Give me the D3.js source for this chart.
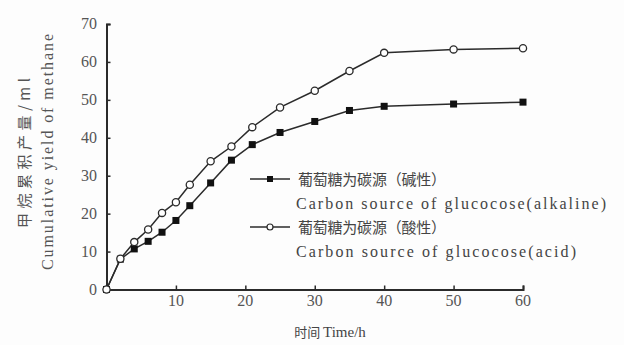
<!DOCTYPE html>
<html>
<head>
<meta charset="utf-8">
<script src="https://cdn.jsdelivr.net/npm/d3@7"></script>
<style>
  body { margin: 0; background: #fdfdfd; }
  svg { display: block; }
</style>
</head>
<body>
<div id="chart"></div>
<script>
// chart data
var times = [0, 2, 4, 6, 8, 10, 12, 15, 18, 21, 25, 30, 35, 40, 50, 60];
var alkaline = [0, 8, 10.7, 12.7, 15.1, 18.2, 22.1, 28.1, 34.1, 38.2, 41.4, 44.3, 47.2, 48.3, 48.9, 49.4];
var acid = [0, 8.1, 12.5, 15.8, 20.2, 23, 27.6, 33.8, 37.7, 42.8, 48, 52.4, 57.6, 62.4, 63.3, 63.6];
var xTicks = [10, 20, 30, 40, 50, 60];
var yTicks = [0, 10, 20, 30, 40, 50, 60, 70];
var legendNames = [
    ["葡萄糖为碳源（碱性）", "Carbon source of glucocose(alkaline)"],
    ["葡萄糖为碳源（酸性）", "Carbon source of glucocose(acid)"]
];

var width = 624;
var height = 345;
var ink = "#2b2b2b";
var serif = "Liberation Serif, DejaVu Serif, serif";
var cjk = "Noto Sans CJK SC, sans-serif";

var svg = d3.select("#chart")
    .append("svg")
    .attr("width", width)
    .attr("height", height);

// scales
var x = d3.scaleLinear().domain([0, 60]).range([106.5, 523]);
var y = d3.scaleLinear().domain([0, 70]).range([289.5, 24]);

// y axis, ticks pointing inward
var yAxis = svg.append("g")
    .attr("transform", "translate(" + x(0) + ",0)")
    .call(d3.axisRight(y).tickValues(yTicks).tickSize(4).tickFormat(""));
yAxis.select(".domain").attr("stroke", ink).attr("stroke-width", 2);
yAxis.selectAll(".tick line").attr("stroke", ink).attr("stroke-width", 1.5);

svg.selectAll(".ylab")
    .data(yTicks)
    .enter()
    .append("text")
    .style("font-family", serif)
    .attr("x", 97)
    .attr("y", function(d) { return y(d) + 5; })
    .attr("text-anchor", "end")
    .attr("font-size", 16)
    .attr("fill", "#555")
    .text(function(d) { return d; });

// x axis, ticks pointing up
var xAxis = svg.append("g")
    .attr("transform", "translate(0," + y(0) + ")")
    .call(d3.axisTop(x).tickValues(xTicks).tickSize(4).tickFormat(""));
xAxis.select(".domain").attr("stroke", ink).attr("stroke-width", 2);
xAxis.selectAll(".tick line").attr("stroke", ink).attr("stroke-width", 1.5);

svg.selectAll(".xlab")
    .data(xTicks)
    .enter()
    .append("text")
    .style("font-family", serif)
    .attr("x", function(d) { return x(d); })
    .attr("y", 306)
    .attr("text-anchor", "middle")
    .attr("font-size", 16)
    .attr("fill", "#555")
    .text(function(d) { return d; });

// axis titles
var xt = svg.append("text")
    .attr("x", 330)
    .attr("y", 337)
    .attr("text-anchor", "middle")
    .attr("fill", "#444");
xt.append("tspan").style("font-family", cjk).attr("font-size", 13).text("时间 ");
xt.append("tspan").style("font-family", serif).attr("font-size", 15).text("Time/h");

svg.append("text")
    .style("font-family", cjk)
    .attr("transform", "translate(30,153) rotate(-90)")
    .attr("text-anchor", "middle")
    .attr("font-size", 15)
    .attr("fill", "#555")
    .attr("textLength", 150)
    .attr("lengthAdjust", "spacing")
    .text("甲烷累积产量/ml");

svg.append("text")
    .style("font-family", serif)
    .attr("transform", "translate(53,152) rotate(-90)")
    .attr("text-anchor", "middle")
    .attr("font-size", 16)
    .attr("fill", "#555")
    .attr("textLength", 236)
    .attr("lengthAdjust", "spacing")
    .text("Cumulative yield of methane");

// lines
var line = d3.line()
    .x(function(d, i) { return x(times[i]); })
    .y(function(d) { return y(d); });

[alkaline, acid].forEach(function(series) {
    svg.append("path")
        .attr("d", line(series))
        .attr("fill", "none")
        .attr("stroke", ink)
        .attr("stroke-width", 1.5);
});

// filled squares for alkaline
svg.selectAll(".sq")
    .data(alkaline)
    .enter()
    .append("rect")
    .attr("x", function(d, i) { return x(times[i]) - 3.5; })
    .attr("y", function(d) { return y(d) - 3.5; })
    .attr("width", 7)
    .attr("height", 7)
    .attr("fill", "#111");

// open circles for acid
svg.selectAll(".ci")
    .data(acid)
    .enter()
    .append("circle")
    .attr("cx", function(d, i) { return x(times[i]); })
    .attr("cy", function(d) { return y(d); })
    .attr("r", 3.6)
    .attr("fill", "#fff")
    .attr("stroke", ink)
    .attr("stroke-width", 1.3);

// legend
var legendY = [179, 227];
legendNames.forEach(function(names, i) {
    var ly = legendY[i];
    svg.append("line")
        .attr("x1", 250).attr("x2", 290)
        .attr("y1", ly).attr("y2", ly)
        .attr("stroke", ink)
        .attr("stroke-width", 1.5);
    if (i == 0) {
        svg.append("rect")
            .attr("x", 267).attr("y", ly - 3)
            .attr("width", 6).attr("height", 6)
            .attr("fill", "#111");
    }
    else {
        svg.append("circle")
            .attr("cx", 270).attr("cy", ly).attr("r", 3)
            .attr("fill", "#fff")
            .attr("stroke", ink)
            .attr("stroke-width", 1.2);
    }
    svg.append("text")
        .style("font-family", cjk)
        .attr("x", 298)
        .attr("y", ly + 6)
        .attr("font-size", 15)
        .attr("fill", "#444")
        .attr("textLength", 148)
        .attr("lengthAdjust", "spacing")
        .text(names[0]);
    svg.append("text")
        .style("font-family", serif)
        .attr("x", 296)
        .attr("y", ly + 30)
        .attr("font-size", 16)
        .attr("fill", "#444")
        .attr("textLength", i == 0 ? 310 : 280)
        .attr("lengthAdjust", "spacing")
        .text(names[1]);
});
</script>
</body>
</html>
